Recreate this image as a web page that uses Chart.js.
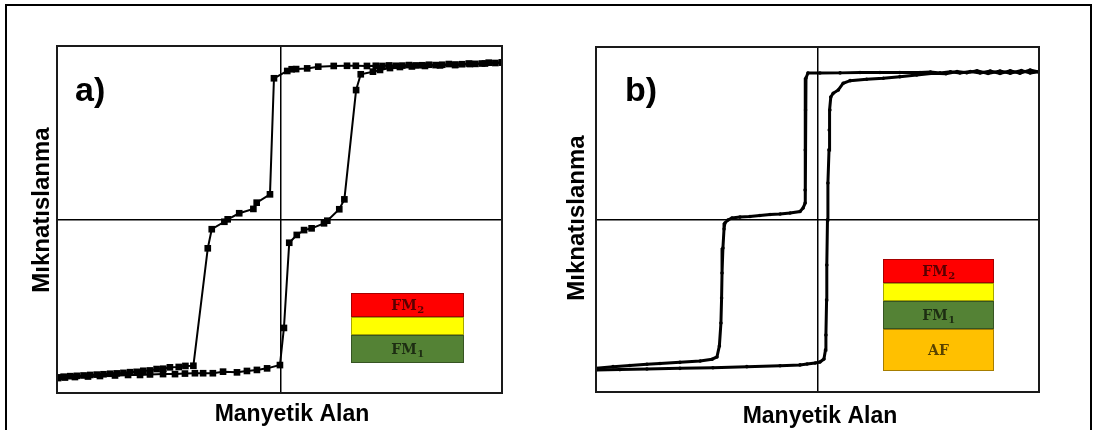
<!DOCTYPE html>
<html>
<head>
<meta charset="utf-8">
<script src="https://cdn.jsdelivr.net/npm/chart.js@4.4.1/dist/chart.umd.min.js"></script>
<style>
  html, body { margin:0; padding:0; background:#fff; overflow:hidden; }
  #wrap { position:relative; width:1097px; height:430px; overflow:hidden; }
  #frame { position:absolute; left:5px; top:4px; width:1087px; height:460px; border:2px solid #000; box-sizing:border-box; }
  canvas { position:absolute; top:0; }
  #ca { left:0; }
  #cb { left:548px; }
</style>
</head>
<body>
<div id="wrap">
  <div id="frame"></div>
  <canvas id="ca" width="548" height="430"></canvas>
  <canvas id="cb" width="549" height="430"></canvas>
</div>
<script>
// ---------- Data (arbitrary units) ----------
// Panel a) – descending branch (field from + to -)
const aDescX = [10.0, 9.7, 9.4, 9.1, 8.8, 8.5, 8.2, 7.9, 7.6, 7.3, 7.0, 6.7, 6.4, 6.1, 5.8, 5.5, 5.2, 4.9, 4.6, 4.3,
  3.9, 3.4, 3.0, 2.4, 1.7, 1.2, 0.7, 0.5, 0.3,
  -0.3, -0.48, -1.08, -1.23, -1.87, -2.39, -2.54, -3.11, -3.29,
  -3.94, -4.3, -4.6, -5.0, -5.3, -5.6, -5.9, -6.2, -6.5, -6.8, -7.1, -7.4, -7.7, -8.0, -8.3, -8.6, -8.9, -9.2, -9.5, -9.8, -10.05];
const aDescY = [9.05, 9.02, 9.04, 8.99, 8.97, 8.99, 8.95, 8.93, 8.96, 8.92, 8.90, 8.92, 8.89, 8.88, 8.90, 8.87, 8.86, 8.88, 8.85, 8.86,
  8.85, 8.86, 8.86, 8.85, 8.81, 8.71, 8.67, 8.66, 8.56,
  8.14, 1.45, 0.97, 0.61, 0.36, 0.01, -0.13, -0.56, -1.66,
  -8.43, -8.44, -8.50, -8.52, -8.60, -8.62, -8.70, -8.72, -8.78, -8.80, -8.84, -8.87, -8.89, -8.92, -8.94, -8.96, -8.99, -9.01, -9.03, -9.06, -9.10];
// Panel a) – ascending branch (field from - to +)
const aAscX = [-10.05, -9.74, -9.29, -8.70, -8.16, -7.48, -6.89, -6.35, -5.90, -5.31, -4.77, -4.32, -3.87, -3.50, -3.06, -2.60, -1.97, -1.52, -1.07, -0.61,
  -0.03, 0.15, 0.39, 0.73, 1.06, 1.40, 1.96, 2.11, 2.65, 2.88, 3.41, 3.62, 4.17, 4.49, 4.94, 5.39, 5.93, 6.52, 7.20, 7.88, 8.55, 9.23, 10.0];
const aAscY = [-9.14, -9.11, -9.08, -9.05, -9.02, -8.99, -8.96, -8.96, -8.93, -8.91, -8.91, -8.88, -8.86, -8.86, -8.86, -8.77, -8.81, -8.73, -8.67, -8.58,
  -8.39, -6.25, -1.34, -0.89, -0.61, -0.51, -0.22, -0.07, 0.59, 1.16, 7.46, 8.37, 8.52, 8.62, 8.73, 8.79, 8.82, 8.85, 8.88, 8.90, 8.96, 8.99, 9.05];

// Panel b) – descending branch
const bDescX = [10.0, 9.6, 9.14, 8.7, 8.24, 7.8, 7.34, 6.9, 6.43, 6.0, 5.53, 5.1, 4.63, 3.72, 2.82, 1.92, 1.02, 0.11,
  -0.43, -0.52, -0.54, -0.55, -0.56, -0.56, -0.65, -0.79,
  -1.24, -1.69, -2.14, -2.60, -3.05, -3.50, -3.86, -4.04, -4.18, -4.22, -4.27, -4.31, -4.33, -4.36, -4.43, -4.54, -4.76,
  -5.30, -6.21, -7.11, -7.70, -8.47, -9.23, -10.0];
const bDescY = [8.55, 8.66, 8.48, 8.62, 8.47, 8.60, 8.50, 8.58, 8.49, 8.56, 8.50, 8.55, 8.52, 8.52, 8.52, 8.52, 8.50, 8.49,
  8.49, 8.20, 6.35, 4.03, 1.71, 0.96, 0.67, 0.46,
  0.38, 0.32, 0.29, 0.23, 0.17, 0.14, 0.09, -0.03, -0.20, -0.55, -1.65, -3.10, -4.55, -6.00, -7.33, -7.97, -8.10,
  -8.20, -8.28, -8.35, -8.39, -8.46, -8.53, -8.63];
// Panel b) – ascending branch
const bAscX = [-10.0, -8.92, -7.70, -6.21, -4.72, -3.19, -1.69, -0.79, -0.47, -0.11,
  0.11, 0.29, 0.36, 0.38, 0.41, 0.42, 0.45, 0.47, 0.52, 0.53,
  0.56, 0.60, 0.71, 0.94, 1.16, 1.47, 2.22, 2.97, 3.72, 4.48,
  5.23, 5.8, 6.3, 6.74, 7.2, 7.7, 8.24, 8.7, 9.2, 9.6, 10.0];
const bAscY = [-8.72, -8.70, -8.67, -8.63, -8.59, -8.53, -8.48, -8.43, -8.38, -8.32,
  -8.26, -8.09, -7.57, -6.70, -4.67, -2.64, -0.03, 2.12, 4.03, 5.19,
  6.35, 7.10, 7.32, 7.51, 7.90, 8.05, 8.13, 8.19, 8.28, 8.38,
  8.48, 8.45, 8.58, 8.51, 8.62, 8.47, 8.60, 8.48, 8.63, 8.50, 8.57];

// Text labels
const xTitle = 'Manyetik Alan';
const yTitle = 'Mıknatıslanma';
const panelLabels = ['a)', 'b)'];
const legendA = [ {name:'FM', sub:'2', color:'#FF0000'}, {name:'', sub:'', color:'#FFFF00'}, {name:'FM', sub:'1', color:'#548235'} ];
const legendB = [ {name:'FM', sub:'2', color:'#FF0000'}, {name:'', sub:'', color:'#FFFF00'}, {name:'FM', sub:'1', color:'#548235'}, {name:'AF', sub:'', color:'#FFC000'} ];

// ---------- Helpers ----------
const zip = (xs, ys) => xs.map((x, i) => ({x, y: ys[i]}));
const SERIF = '"DejaVu Serif", "Liberation Serif", serif';

const decorPlugin = {
  id: 'decor',
  afterDraw(chart, args, o) {
    const ctx = chart.ctx, ca = chart.chartArea;
    ctx.save();
    // plot frame
    ctx.strokeStyle = '#1a1a1a'; ctx.lineWidth = 2;
    ctx.strokeRect(ca.left, ca.top, ca.right - ca.left, ca.bottom - ca.top);
    // panel label
    ctx.fillStyle = '#000';
    ctx.font = 'bold 34px "Liberation Sans", Arial, sans-serif';
    ctx.textAlign = 'left'; ctx.textBaseline = 'alphabetic';
    ctx.fillText(o.label, o.labelX, o.labelY);
    // x title
    ctx.font = 'bold 23px "Liberation Sans", Arial, sans-serif';
    ctx.textAlign = 'center';
    ctx.fillText(xTitle, o.xtX, o.xtY);
    // y title (rotated)
    ctx.save();
    ctx.translate(o.ytX, o.ytY); ctx.rotate(-Math.PI / 2);
    ctx.font = 'bold 24px "Liberation Sans", Arial, sans-serif';
    ctx.textAlign = 'center'; ctx.textBaseline = 'middle';
    ctx.fillText(yTitle, 0, 0);
    ctx.restore();
    // legend boxes
    let y = o.boxTop;
    o.boxes.forEach((b, i) => {
      const h = o.boxHeights[i];
      ctx.fillStyle = b.color;
      ctx.fillRect(o.boxLeft, y, o.boxWidth, h);
      ctx.strokeStyle = 'rgba(0,0,0,0.35)'; ctx.lineWidth = 1;
      ctx.strokeRect(o.boxLeft + 0.5, y + 0.5, o.boxWidth - 1, h - 1);
      if (b.name) {
        ctx.fillStyle = 'rgba(0,0,0,0.65)';
        ctx.textBaseline = 'alphabetic';
        ctx.font = 'bold 14px ' + SERIF;
        const w1 = ctx.measureText(b.name).width;
        ctx.font = 'bold 10px ' + SERIF;
        const w2 = b.sub ? ctx.measureText(b.sub).width : 0;
        const cx = o.boxLeft + o.boxWidth / 2;
        const x0 = cx - (w1 + w2) / 2;
        const base = y + h / 2 + 5;
        ctx.textAlign = 'left';
        ctx.font = 'bold 14px ' + SERIF;
        ctx.fillText(b.name, x0, base);
        if (b.sub) {
          ctx.font = 'bold 10px ' + SERIF;
          ctx.fillText(b.sub, x0 + w1 + 0.5, base + 3);
        }
      }
      y += h;
    });
    ctx.restore();
  }
};

function axis(min, max) {
  return {
    type: 'linear', min, max,
    afterBuildTicks: s => { s.ticks = [{value: 0}]; },
    ticks: { display: false },
    grid: { display: true, drawTicks: false, color: '#000', lineWidth: 1.5 },
    border: { display: false }
  };
}

function makeChart(id, datasets, xr, pad, decor) {
  return new Chart(document.getElementById(id), {
    type: 'scatter',
    data: { datasets },
    options: {
      responsive: false, animation: false,
      layout: { padding: pad },
      scales: { x: axis(xr[0], xr[1]), y: axis(-10, 10) },
      plugins: { legend: { display: false }, tooltip: { enabled: false }, decor }
    },
    plugins: [decorPlugin]
  });
}

const aStyle = { showLine: true, borderColor: '#000', borderWidth: 2, pointStyle: 'rect', pointRadius: 4.7,
  pointBackgroundColor: '#000', pointBorderWidth: 0, tension: 0 };
const bStyle = { showLine: true, borderColor: '#000', borderWidth: 3, pointStyle: 'circle', pointRadius: 1.8,
  pointBackgroundColor: '#000', pointBorderWidth: 0, tension: 0 };

makeChart('ca', [
  Object.assign({ label: 'desc', data: zip(aDescX, aDescY) }, aStyle),
  Object.assign({ label: 'asc', data: zip(aAscX, aAscY) }, aStyle)
], [-10.1, 10], { left: 57, top: 46, right: 46, bottom: 37 }, {
  label: panelLabels[0], labelX: 75, labelY: 101,
  xtX: 292, xtY: 421, ytX: 42, ytY: 210,
  boxes: legendA, boxLeft: 351, boxTop: 293, boxWidth: 113, boxHeights: [24, 18, 28]
});

makeChart('cb', [
  Object.assign({ label: 'desc', data: zip(bDescX, bDescY) }, bStyle),
  Object.assign({ label: 'asc', data: zip(bAscX, bAscY) }, bStyle)
], [-10, 10], { left: 48, top: 47, right: 58, bottom: 38 }, {
  label: panelLabels[1], labelX: 77, labelY: 101,
  xtX: 272, xtY: 423, ytX: 29, ytY: 218,
  boxes: legendB, boxLeft: 335, boxTop: 259, boxWidth: 111, boxHeights: [24, 18, 28, 42]
});
</script>
</body>
</html>
